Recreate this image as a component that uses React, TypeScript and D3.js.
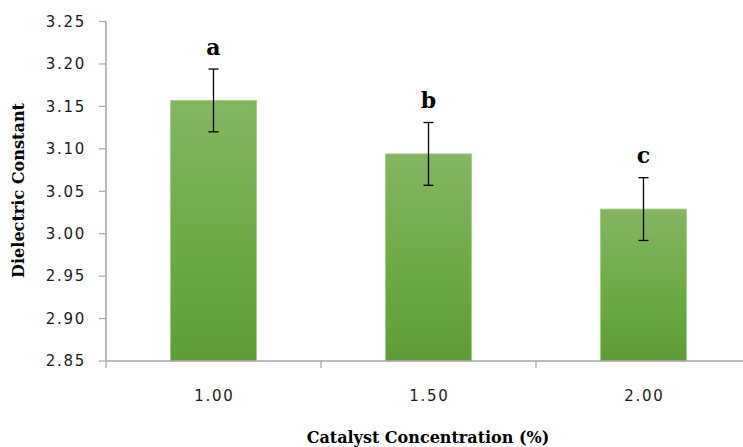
import React from "react";
import * as d3 from "d3";

const categories = ["1.00", "1.50", "2.00"];
const values = [3.157, 3.094, 3.029];
const errors = [0.037, 0.037, 0.037];
const letters = ["a", "b", "c"];
const yTicks = [2.85, 2.9, 2.95, 3.0, 3.05, 3.1, 3.15, 3.2, 3.25];

const W = 743;
const H = 447;
const left = 106;
const right = 751;
const top = 21.5;
const bottom = 361;

export default function App() {
  const x = d3.scaleBand<string>().domain(categories).range([left, right]).paddingInner(0).paddingOuter(0);
  const y = d3.scaleLinear().domain([2.85, 3.25]).range([bottom, top]);
  const barW = x.bandwidth() / 2.5;
  const axisColor = "#a6a6a6";
  const serif = "'DejaVu Serif', 'Liberation Serif', serif";
  const sans = "'DejaVu Sans', Verdana, sans-serif";

  return (
    <svg width={W} height={H} style={{ position: "absolute", left: 0, top: 0 }}>
      <defs>
        <linearGradient id="barFill" x1="0" y1="0" x2="0" y2="1">
          <stop offset="0" stopColor="#83b661" />
          <stop offset="0.5" stopColor="#6eac47" />
          <stop offset="1" stopColor="#5e9c35" />
        </linearGradient>
      </defs>

      {/* bars */}
      {values.map((v, i) => {
        const cx = (x(categories[i]) as number) + x.bandwidth() / 2;
        return (
          <rect
            key={"b" + i}
            x={cx - barW / 2}
            y={y(v)}
            width={barW}
            height={y(2.85) - y(v)}
            fill="url(#barFill)"
            stroke="#9fcb83"
            strokeWidth={0.8}
          />
        );
      })}

      {/* error bars and group letters */}
      {values.map((v, i) => {
        const cx = (x(categories[i]) as number) + x.bandwidth() / 2;
        const yt = y(v + errors[i]);
        const yb = y(v - errors[i]);
        return (
          <g key={"e" + i}>
            <line x1={cx} x2={cx} y1={yt} y2={yb} stroke="#000" strokeWidth={1.3} />
            <line x1={cx - 5} x2={cx + 5} y1={yt} y2={yt} stroke="#000" strokeWidth={1.3} />
            <line x1={cx - 5} x2={cx + 5} y1={yb} y2={yb} stroke="#000" strokeWidth={1.3} />
            <text
              x={cx}
              y={yt - 14.5}
              textAnchor="middle"
              fontFamily={serif}
              fontWeight="bold"
              fontSize={22}
              fill="#000"
            >
              {letters[i]}
            </text>
          </g>
        );
      })}

      {/* y axis */}
      <line x1={left} x2={left} y1={top} y2={bottom} stroke={axisColor} strokeWidth={1.5} />
      {yTicks.map((t) => (
        <g key={"yt" + t}>
          <line x1={left - 7} x2={left} y1={y(t)} y2={y(t)} stroke={axisColor} strokeWidth={1.2} />
          <text
            x={86}
            y={y(t)}
            dy="0.35em"
            textAnchor="end"
            fontFamily={sans}
            fontSize={15}
            letterSpacing={1.7}
            fill="#1a1a1a"
          >
            {t.toFixed(2)}
          </text>
        </g>
      ))}

      {/* x axis */}
      <line x1={left} x2={right} y1={bottom} y2={bottom} stroke={axisColor} strokeWidth={1.5} />
      {[left, ...categories.map((c) => (x(c) as number) + x.bandwidth())].map((px, i) => (
        <line key={"xt" + i} x1={px} x2={px} y1={bottom} y2={bottom + 7} stroke={axisColor} strokeWidth={1.2} />
      ))}
      {categories.map((c) => (
        <text
          key={"xl" + c}
          x={(x(c) as number) + x.bandwidth() / 2 + 0.8}
          y={396}
          dy="0.35em"
          textAnchor="middle"
          fontFamily={sans}
          fontSize={15}
          letterSpacing={1.7}
          fill="#1a1a1a"
        >
          {c}
        </text>
      ))}

      {/* axis titles */}
      <text
        x={428}
        y={437}
        dy="0.35em"
        textAnchor="middle"
        fontFamily={serif}
        fontWeight="bold"
        fontSize={16}
        fill="#000"
      >
        Catalyst Concentration (%)
      </text>
      <text
        transform={`translate(18,${190.5}) rotate(-90)`}
        dy="0.35em"
        textAnchor="middle"
        fontFamily={serif}
        fontWeight="bold"
        fontSize={16}
        textLength={175}
        lengthAdjust="spacingAndGlyphs"
        fill="#000"
      >
        Dielectric Constant
      </text>
    </svg>
  );
}
